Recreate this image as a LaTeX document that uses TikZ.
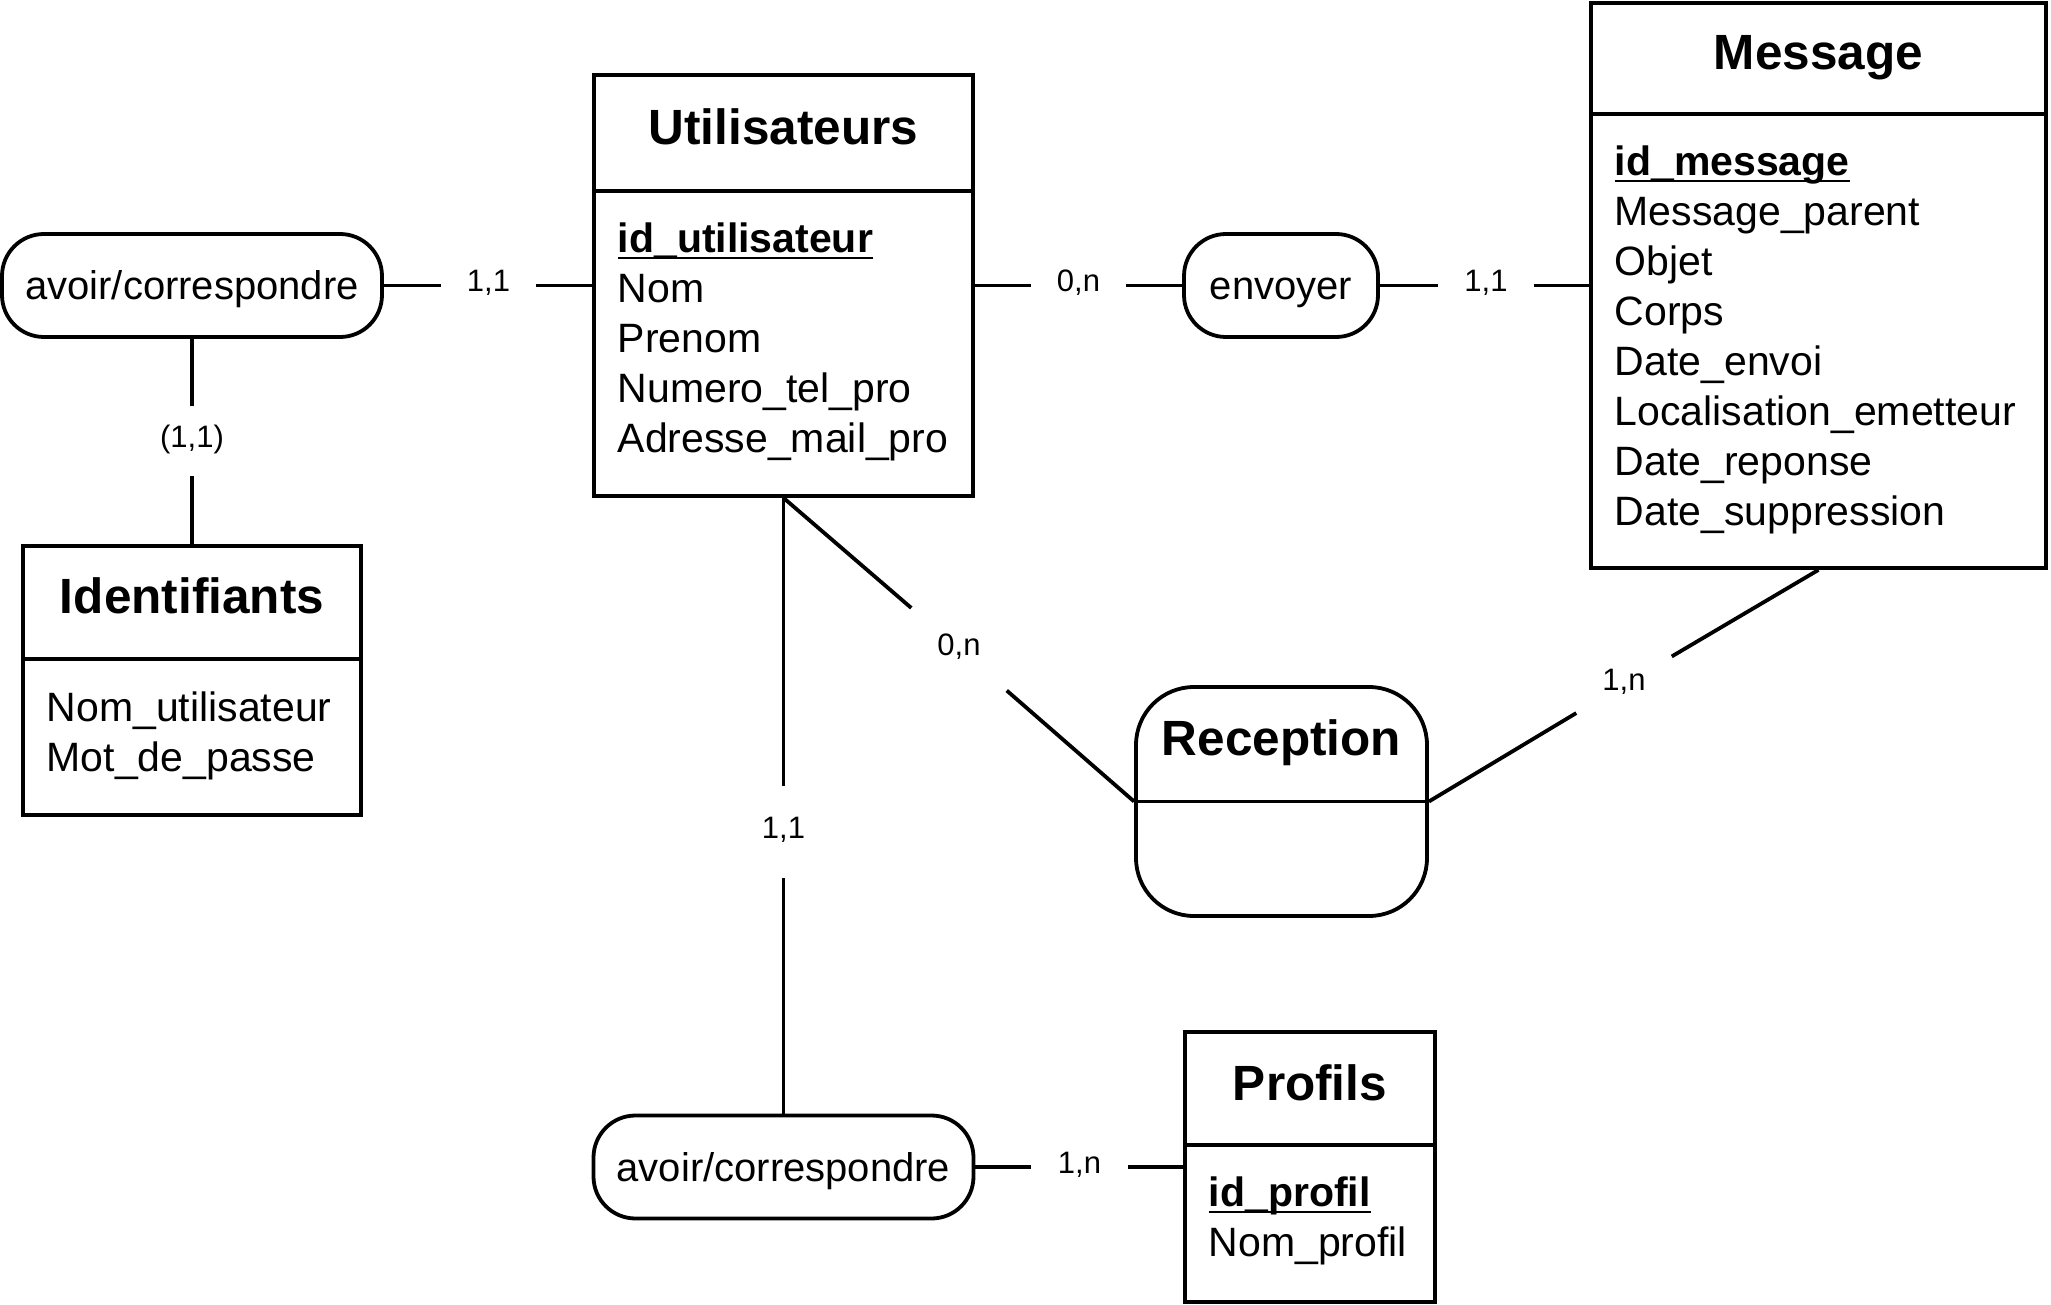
\documentclass[tikz,border=0pt]{standalone}
\usepackage{fontspec}
\setmainfont{Liberation Sans}
\usetikzlibrary{calc}

\tikzset{
  entity/.style={draw, line width=3.8pt, inner sep=0pt},
  enttitle/.style={font=\fontsize{49.5}{59}\selectfont\bfseries, anchor=base, inner sep=0pt},
  attr/.style={font=\fontsize{41}{50}\selectfont, anchor=base west, inner sep=0pt},
  keyattr/.style={attr, font=\fontsize{41}{50}\selectfont\bfseries},
  relation/.style={draw, line width=3.8pt, rounded corners=42pt, minimum height=103pt,
    inner sep=0pt, font=\fontsize{40}{48}\selectfont, text height=30pt, text depth=2pt},
  card/.style={font=\fontsize{31}{37}\selectfont, inner xsep=26pt, inner ysep=19pt,
    text height=22pt, text depth=10pt},
  link/.style={line width=3.8pt},
  keyline/.style={line width=2pt},
}

\begin{document}
\begin{tikzpicture}[x=1pt, y=-1pt]
\useasboundingbox (0,0) rectangle (2051,1305);

% entities
\node[entity, minimum width=379pt, minimum height=421pt] (ut) at (783.5,285.5) {};
\draw[link] ($(ut.north west)+(0,118)$) coordinate (ut-d) -- ($(ut.north east)+(0,118)$);
\node[enttitle] (ut-t) at ($(ut.north)+(0,71)$) {Utilisateurs};
\node[keyattr] (ut-a1) at ($(ut-d)+(25.5,61.5)$) {id\_utilisateur};
\foreach \a [count=\i from 2] in {Nom, Prenom, Numero\_tel\_pro, Adresse\_mail\_pro}
  \node[attr] (ut-a\i) at ($(ut-d)+(25.5,11.5+50*\i)$) {\a};
\draw[keyline] ($(ut-a1.base west)+(0,5.5)$) -- ($(ut-a1.base east)+(0,5.5)$);

\node[entity, minimum width=455pt, minimum height=565pt] (msg) at (1818.5,285.5) {};
\draw[link] ($(msg.north west)+(0,113)$) coordinate (msg-d) -- ($(msg.north east)+(0,113)$);
\node[enttitle] (msg-t) at ($(msg.north)+(0,68)$) {Message};
\node[keyattr] (msg-a1) at ($(msg-d)+(25.5,61.5)$) {id\_message};
\foreach \a [count=\i from 2] in {Message\_parent, Objet, Corps, Date\_envoi,
    Localisation\_emetteur, Date\_reponse, Date\_suppression}
  \node[attr] (msg-a\i) at ($(msg-d)+(25.5,11.5+50*\i)$) {\a};
\draw[keyline] ($(msg-a1.base west)+(0,5.5)$) -- ($(msg-a1.base east)+(0,5.5)$);

\node[entity, minimum width=338pt, minimum height=269pt] (id) at (192,680.5) {};
\draw[link] ($(id.north west)+(0,115)$) coordinate (id-d) -- ($(id.north east)+(0,115)$);
\node[enttitle] (id-t) at ($(id.north)+(0,69.5)$) {Identifiants};
\foreach \a [count=\i] in {Nom\_utilisateur, Mot\_de\_passe}
  \node[attr] (id-a\i) at ($(id-d)+(25.5,12+50*\i)$) {\a};

\node[entity, minimum width=250pt, minimum height=270pt] (pro) at (1310,1167) {};
\draw[link] ($(pro.north west)+(0,115)$) coordinate (pro-d) -- ($(pro.north east)+(0,115)$);
\node[enttitle] (pro-t) at ($(pro.north)+(0,70)$) {Profils};
\node[keyattr] (pro-a1) at ($(pro-d)+(25.5,61.5)$) {id\_profil};
\node[attr] (pro-a2) at ($(pro-d)+(25.5,111.5)$) {Nom\_profil};
\draw[keyline] ($(pro-a1.base west)+(0,5.5)$) -- ($(pro-a1.base east)+(0,5.5)$);

% associations
\node[relation, rounded corners=58pt, minimum width=291pt, minimum height=229pt] (rec) at (1281.5,801.5) {};
\draw[link] (rec.west) -- (rec.east);
\node[enttitle] (rec-t) at ($(rec.north)+(0,70)$) {Reception};

\node[relation, minimum width=380pt] (av1) at (192,285.5) {avoir/correspondre};
\node[relation, minimum width=194pt] (env) at (1281,285.5) {envoyer};
\node[relation, minimum width=380pt] (av2) at (783.5,1167) {avoir/correspondre};

% cardinalities
\node[card] (c1) at (488.5,285.5) {1,1};
\node[card] (c2) at (192,441) {(1,1)};
\node[card] (c3) at (1078.5,285.5) {0,n};
\node[card] (c4) at (1486,285.5) {1,1};
\node[card, inner ysep=26pt] (c5) at (959,649) {0,n};
\node[card] (c6) at (1624,684.5) {1,n};
\node[card, inner ysep=30pt] (c7) at (783.5,832) {1,1};
\node[card, inner xsep=27pt] (c8) at (1079.5,1167) {1,n};

% links
\draw[link] (av1) -- (c1);
\draw[link] (c1) -- (ut);
\draw[link] (av1) -- (c2);
\draw[link] (c2) -- (id);
\draw[link] (ut) -- (c3);
\draw[link] (c3) -- (env);
\draw[link] (env) -- (c4);
\draw[link] (c4) -- (msg);
\draw[link] (ut.south) -- (c5);
\draw[link] (c5) -- (rec.west);
\draw[link] (msg.south) -- (c6);
\draw[link] (c6) -- (rec.east);
\draw[link] (ut.south) -- (c7);
\draw[link] (c7) -- (av2);
\draw[link] (av2) -- (c8);
\draw[link] (c8) -- (pro);

\end{tikzpicture}
\end{document}
